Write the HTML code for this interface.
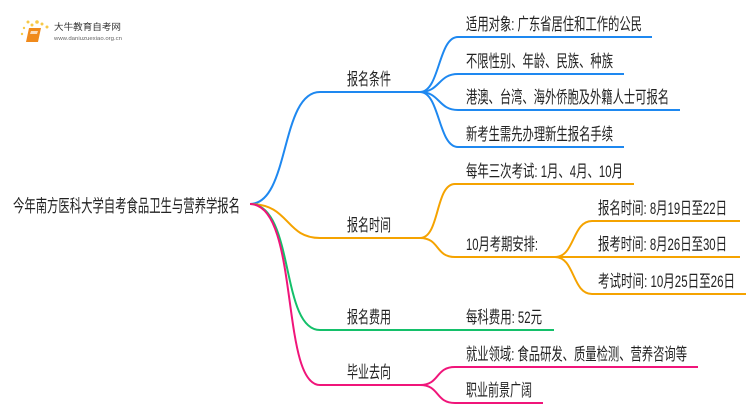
<!DOCTYPE html>
<html><head><meta charset="utf-8"><style>
html,body{margin:0;padding:0;background:#fff;width:750px;height:410px;overflow:hidden}
svg text{font-family:"Liberation Sans","Noto Sans CJK SC",sans-serif;fill:#222}
</style></head><body>
<svg width="750" height="410" viewBox="0 0 750 410" xmlns="http://www.w3.org/2000/svg">
<g>
<circle cx="28" cy="22" r="1.5" fill="#f7c948"/><circle cx="32" cy="25" r="1.5" fill="#f7c948"/><circle cx="37" cy="22" r="1.8" fill="#f7c948"/><circle cx="42" cy="24" r="1.5" fill="#f7c948"/><circle cx="24" cy="28" r="1.2" fill="#f7c948"/><circle cx="22" cy="34" r="1.2" fill="#f7c948"/><circle cx="47" cy="27" r="1.5" fill="#f7c948"/>
<path d="M29 28 L41 28 L38 42 L26 42 Z" fill="#f08a1c"/>
<path d="M31 31 L38 31 L37 34 L30 34 Z" fill="#fff" opacity=".7"/>
<text x="54" y="30" font-size="9" textLength="67" lengthAdjust="spacingAndGlyphs" style="fill:#333">大牛教育自考网</text>
<text x="54" y="40" font-size="5" textLength="68" lengthAdjust="spacingAndGlyphs" style="fill:#666">www.daniuzuexiao.org.cn</text>
</g>
<g fill="none" stroke-width="2">
<g stroke="#1e88f0">
<path d="M250 204 C290 204 280 92 320 92 L420 92"/>
<path d="M420 92 C440 92 438 37 458 37 L652 37"/>
<path d="M420 92 C440 92 438 74 458 74 L624 74"/>
<path d="M420 92 C440 92 438 110 458 110 L680 110"/>
<path d="M420 92 C440 92 438 147 458 147 L624 147"/>
</g>
<g stroke="#f5a300">
<path d="M250 204 C290 204 285 238 320 238 L420 238"/>
<path d="M420 238 C440 238 435 184 455 184 L634 184"/>
<path d="M420 238 C440 238 435 257 455 257 L555 257"/>
<path d="M555 257 C575 257 572 221 592 221 L740 221"/>
<path d="M555 257 L740 257"/>
<path d="M555 257 C575 257 572 294 592 294 L746 294"/>
</g>
<path stroke="#14c06a" d="M250 204 C295 204 280 330 320 330 L554 330"/>
<g stroke="#f0157a">
<path d="M250 204 C300 204 280 385 320 385 L420 385"/>
<path d="M420 385 C440 385 435 367 455 367 L698 367"/>
<path d="M420 385 C440 385 435 403 455 403 L543 403"/>
</g>
</g>
<g font-size="17">
<text x="13" y="212" font-size="17.5" textLength="227" lengthAdjust="spacingAndGlyphs">今年南方医科大学自考食品卫生与营养学报名</text>
<text x="347" y="85" textLength="44" lengthAdjust="spacingAndGlyphs">报名条件</text>
<text x="466" y="30" textLength="176" lengthAdjust="spacingAndGlyphs">适用对象: 广东省居住和工作的公民</text>
<text x="466" y="67" textLength="147" lengthAdjust="spacingAndGlyphs">不限性别、年龄、民族、种族</text>
<text x="466" y="103" textLength="203" lengthAdjust="spacingAndGlyphs">港澳、台湾、海外侨胞及外籍人士可报名</text>
<text x="466" y="140" textLength="147" lengthAdjust="spacingAndGlyphs">新考生需先办理新生报名手续</text>
<text x="347" y="231" textLength="44" lengthAdjust="spacingAndGlyphs">报名时间</text>
<text x="466" y="177" textLength="157" lengthAdjust="spacingAndGlyphs">每年三次考试: 1月、4月、10月</text>
<text x="466" y="250" textLength="72" lengthAdjust="spacingAndGlyphs">10月考期安排:</text>
<text x="598" y="214" textLength="129" lengthAdjust="spacingAndGlyphs">报名时间: 8月19日至22日</text>
<text x="598" y="250" textLength="129" lengthAdjust="spacingAndGlyphs">报考时间: 8月26日至30日</text>
<text x="598" y="287" textLength="137" lengthAdjust="spacingAndGlyphs">考试时间: 10月25日至26日</text>
<text x="347" y="323" textLength="44" lengthAdjust="spacingAndGlyphs">报名费用</text>
<text x="466" y="323" textLength="76" lengthAdjust="spacingAndGlyphs">每科费用: 52元</text>
<text x="347" y="378" textLength="44" lengthAdjust="spacingAndGlyphs">毕业去向</text>
<text x="466" y="360" textLength="221" lengthAdjust="spacingAndGlyphs">就业领域: 食品研发、质量检测、营养咨询等</text>
<text x="466" y="396" textLength="66" lengthAdjust="spacingAndGlyphs">职业前景广阔</text>
</g>
</svg>
</body></html>
